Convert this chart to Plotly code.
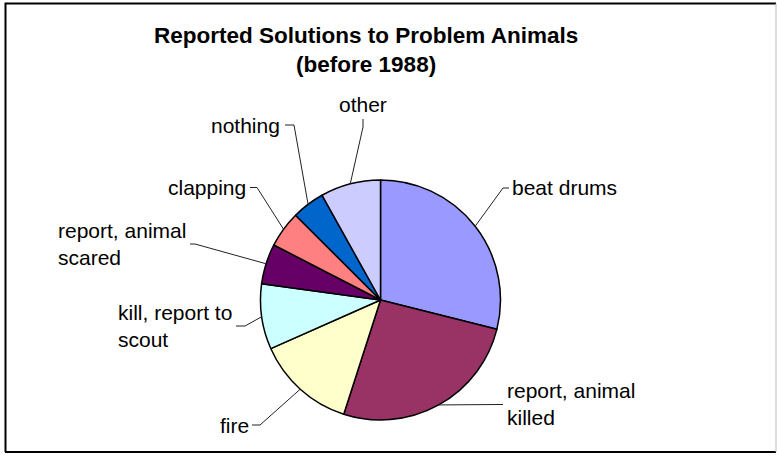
import math
import plotly.graph_objects as go

# ---- data ----
categories = ["beat drums", "report, animal killed", "fire", "kill, report to scout",
              "report, animal scared", "clapping", "nothing", "other"]
values = [28.9, 26.0, 13.4, 8.8, 5.4, 4.9, 4.4, 8.1]
label_texts = ["beat drums", "report, animal<br>killed", "fire", "kill, report to<br>scout",
               "report, animal<br>scared", "clapping", "nothing", "other"]
colors = ["#9999FF", "#993366", "#FFFFCC", "#CCFFFF", "#660066", "#FF8080", "#0066CC", "#CCCCFF"]
title_lines = ["Reported Solutions to Problem Animals", "(before 1988)"]

# ---- layout constants (pixels) ----
W, H = 777, 461
CX, CY, R = 380.5, 300.0, 120.0
FONT = "Arial, Liberation Sans, sans-serif"

def px(x):
    return x / W

def py(y):
    return 1 - y / H

# label placement: (elbow x, elbow y, stub end x, stub end y, text x, text y, xanchor)
label_layout = [
    (503, 188, 509, 188, 511, 187, "left"),
    (498, 404.5, 503, 404.5, 506, 404, "left"),
    (260, 425, 252, 425, 250, 425, "right"),
    (245, 326, 236, 326, 233, 326, "right"),
    (195, 244, 190, 244, 187, 244, "right"),
    (257, 187.5, 250, 187.5, 247, 187, "right"),
    (294, 125, 285, 125, 281, 125, "right"),
    (363, 127, 363, 119, 363, 105, "center"),
]

fig = go.Figure()
fig.add_trace(go.Pie(
    values=values,
    labels=categories,
    marker=dict(colors=colors, line=dict(color="black", width=1.5)),
    direction="clockwise",
    sort=False,
    rotation=0,
    textinfo="none",
    showlegend=False,
    domain=dict(x=[px(CX - R), px(CX + R)], y=[py(CY + R), py(CY - R)]),
))

total = sum(values)
shapes = []
annotations = []
start = 0.0
for i, v in enumerate(values):
    span = v / total * 360.0
    mid = math.radians(start + span / 2)
    start += span
    ex = CX + R * math.sin(mid)
    ey = CY - R * math.cos(mid)
    bx, by, sx, sy, tx, ty, anchor = label_layout[i]
    path = f"M {px(ex)},{py(ey)} L {px(bx)},{py(by)} L {px(sx)},{py(sy)}"
    shapes.append(dict(type="path", xref="paper", yref="paper", path=path,
                       line=dict(color="#222222", width=1)))
    annotations.append(dict(
        x=px(tx), y=py(ty), xref="paper", yref="paper",
        text=label_texts[i], showarrow=False, xanchor=anchor, yanchor="middle",
        align="left", borderpad=0,
        font=dict(family=FONT, size=21, color="black"),
    ))

# title (two lines in one text block)
annotations.append(dict(
    x=px(366), y=py(50), xref="paper", yref="paper",
    text="<br>".join(f"<b>{t}</b>" for t in title_lines),
    showarrow=False, xanchor="center", yanchor="middle", align="center", borderpad=0,
    font=dict(family=FONT, size=22.5, color="black"),
))

# chart frame
shapes.append(dict(type="path", xref="paper", yref="paper",
                   path=f"M {px(5.5)},{py(452)} L {px(5.5)},{py(3.5)} L {px(776)},{py(3.5)}",
                   line=dict(color="black", width=2)))
shapes.append(dict(type="line", xref="paper", yref="paper",
                   x0=px(5), y0=py(452), x1=px(776), y1=py(452),
                   line=dict(color="black", width=2)))
shapes.append(dict(type="line", xref="paper", yref="paper",
                   x0=px(776), y0=py(3.5), x1=px(776), y1=py(452),
                   line=dict(color="#BBBBBB", width=1)))

fig.update_layout(
    width=W, height=H,
    margin=dict(l=0, r=0, t=0, b=0, autoexpand=False),
    paper_bgcolor="white", plot_bgcolor="white",
    shapes=shapes, annotations=annotations,
)

fig.write_html("out.html")
